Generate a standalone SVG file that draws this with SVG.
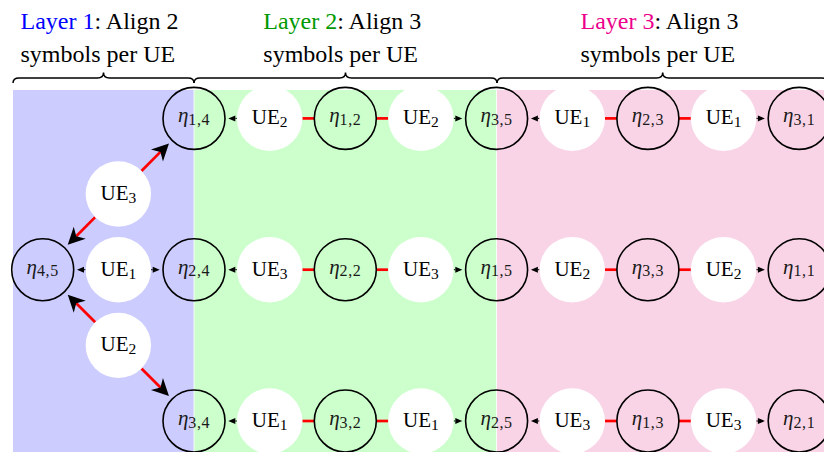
<svg xmlns="http://www.w3.org/2000/svg" width="824" height="452" viewBox="0 0 824 452">
<style>
text{font-family:"Liberation Serif","Times New Roman",serif;fill:#000}
.hd{font-size:24px}
.eta circle{fill:none;stroke:#000;stroke-width:1.6}
.ue circle{fill:#fff;stroke:none}
.el{font-size:21px;text-anchor:middle;fill:#1a1a1a}
.el .g{font-style:italic}
.el .s{font-size:16px;letter-spacing:0.6px}
.ul{font-size:21px;text-anchor:middle}
.ul .s{font-size:15.5px}
.brace{fill:none;stroke:#000;stroke-width:1.5}
.red{stroke:#f00;stroke-width:2.7;fill:none}
.sm{stroke:#000;stroke-width:1;fill:none;marker-end:url(#sa)}
.big{stroke:#f00;stroke-width:2.7;fill:none;marker-end:url(#ba)}
</style>
<defs>
<marker id="sa" markerUnits="userSpaceOnUse" orient="auto" refX="0" refY="0" markerWidth="10" markerHeight="10" viewBox="-1 -5 10 10" overflow="visible"><path d="M7,0 L0,-3 L0,3 Z" fill="#000"/></marker>
<marker id="ba" markerUnits="userSpaceOnUse" orient="auto" refX="0" refY="0" markerWidth="20" markerHeight="20" viewBox="-6 -10 20 20" overflow="visible"><path d="M12,0 L-5,-8.5 L0,0 L-5,8.5 Z" fill="#000"/></marker>
</defs>
<g id="background">
<rect x="13" y="90" width="180.6" height="362" fill="#ccccff"/>
<rect x="194.4" y="90" width="301.8" height="362" fill="#ccffcc"/>
<rect x="497" y="90" width="327" height="362" fill="#f9d4e6"/>
</g>
<g id="headers">
<text class="hd" x="20.5" y="29"><tspan fill="#0000ff">Layer 1</tspan>: Align 2</text>
<text class="hd" x="20.5" y="62">symbols per UE</text>
<text class="hd" x="263.3" y="29"><tspan fill="#009900">Layer 2</tspan>: Align 3</text>
<text class="hd" x="263.3" y="62">symbols per UE</text>
<text class="hd" x="580.5" y="29"><tspan fill="#ec008c">Layer 3</tspan>: Align 3</text>
<text class="hd" x="580.5" y="62">symbols per UE</text>
</g>
<g id="braces">
<path class="brace" d="M13,83 Q13,78 19,78 L97.5,78 Q103.5,78 103.5,72.5 Q103.5,78 109.5,78 L188,78 Q194,78 194,83"/>
<path class="brace" d="M194,83 Q194,78 200,78 L339.5,78 Q345.5,78 345.5,72.5 Q345.5,78 351.5,78 L491,78 Q497,78 497,83"/>
<path class="brace" d="M497,83 Q497,78 503,78 L656.7,78 Q662.7,78 662.7,72.5 Q662.7,78 668.7,78 L822,78 Q828,78 828,83"/>
</g>
<g id="connectors">
<line class="red" x1="302.35" y1="118.4" x2="314.3" y2="118.4"/>
<line class="red" x1="376.3" y1="118.4" x2="388.25" y2="118.4"/>
<line class="red" x1="604.95" y1="118.4" x2="616.9" y2="118.4"/>
<line class="red" x1="678.9" y1="118.4" x2="690.85" y2="118.4"/>
<line class="red" x1="302.35" y1="269.7" x2="314.3" y2="269.7"/>
<line class="red" x1="376.3" y1="269.7" x2="388.25" y2="269.7"/>
<line class="red" x1="604.95" y1="269.7" x2="616.9" y2="269.7"/>
<line class="red" x1="678.9" y1="269.7" x2="690.85" y2="269.7"/>
<line class="red" x1="302.35" y1="421" x2="314.3" y2="421"/>
<line class="red" x1="376.3" y1="421" x2="388.25" y2="421"/>
<line class="red" x1="604.95" y1="421" x2="616.9" y2="421"/>
<line class="red" x1="678.9" y1="421" x2="690.85" y2="421"/>
<line class="sm" x1="236.95" y1="118.4" x2="235.3" y2="118.4"/>
<line class="sm" x1="453.65" y1="118.4" x2="455.3" y2="118.4"/>
<line class="sm" x1="539.55" y1="118.4" x2="537.9" y2="118.4"/>
<line class="sm" x1="756.25" y1="118.4" x2="757.9" y2="118.4"/>
<line class="sm" x1="85.65" y1="269.7" x2="84" y2="269.7"/>
<line class="sm" x1="151.05" y1="269.7" x2="152.7" y2="269.7"/>
<line class="sm" x1="236.95" y1="269.7" x2="235.3" y2="269.7"/>
<line class="sm" x1="453.65" y1="269.7" x2="455.3" y2="269.7"/>
<line class="sm" x1="539.55" y1="269.7" x2="537.9" y2="269.7"/>
<line class="sm" x1="756.25" y1="269.7" x2="757.9" y2="269.7"/>
<line class="sm" x1="236.95" y1="421" x2="235.3" y2="421"/>
<line class="sm" x1="453.65" y1="421" x2="455.3" y2="421"/>
<line class="sm" x1="539.55" y1="421" x2="537.9" y2="421"/>
<line class="sm" x1="756.25" y1="421" x2="757.9" y2="421"/>
<line class="big" x1="141.47" y1="170.93" x2="160.48" y2="151.92"/>
<line class="big" x1="95.23" y1="217.17" x2="76.22" y2="236.18"/>
<line class="big" x1="95.23" y1="322.23" x2="76.22" y2="303.22"/>
<line class="big" x1="141.47" y1="368.47" x2="160.48" y2="387.48"/>
</g>
<g id="eta45" class="eta"><circle cx="42.7" cy="269.7" r="31"/><text class="el" x="42.7" y="273.7"><tspan class="g">η</tspan><tspan class="s" dy="2.5">4,5</tspan></text></g>
<g id="eta14" class="eta"><circle cx="194" cy="118.4" r="31"/><text class="el" x="194" y="122.4"><tspan class="g">η</tspan><tspan class="s" dy="2.5">1,4</tspan></text></g>
<g id="eta24" class="eta"><circle cx="194" cy="269.7" r="31"/><text class="el" x="194" y="273.7"><tspan class="g">η</tspan><tspan class="s" dy="2.5">2,4</tspan></text></g>
<g id="eta34" class="eta"><circle cx="194" cy="421" r="31"/><text class="el" x="194" y="425"><tspan class="g">η</tspan><tspan class="s" dy="2.5">3,4</tspan></text></g>
<g id="eta12" class="eta"><circle cx="345.3" cy="118.4" r="31"/><text class="el" x="345.3" y="122.4"><tspan class="g">η</tspan><tspan class="s" dy="2.5">1,2</tspan></text></g>
<g id="eta22" class="eta"><circle cx="345.3" cy="269.7" r="31"/><text class="el" x="345.3" y="273.7"><tspan class="g">η</tspan><tspan class="s" dy="2.5">2,2</tspan></text></g>
<g id="eta32" class="eta"><circle cx="345.3" cy="421" r="31"/><text class="el" x="345.3" y="425"><tspan class="g">η</tspan><tspan class="s" dy="2.5">3,2</tspan></text></g>
<g id="eta35" class="eta"><circle cx="496.6" cy="118.4" r="31"/><text class="el" x="496.6" y="122.4"><tspan class="g">η</tspan><tspan class="s" dy="2.5">3,5</tspan></text></g>
<g id="eta15" class="eta"><circle cx="496.6" cy="269.7" r="31"/><text class="el" x="496.6" y="273.7"><tspan class="g">η</tspan><tspan class="s" dy="2.5">1,5</tspan></text></g>
<g id="eta25" class="eta"><circle cx="496.6" cy="421" r="31"/><text class="el" x="496.6" y="425"><tspan class="g">η</tspan><tspan class="s" dy="2.5">2,5</tspan></text></g>
<g id="eta23" class="eta"><circle cx="647.9" cy="118.4" r="31"/><text class="el" x="647.9" y="122.4"><tspan class="g">η</tspan><tspan class="s" dy="2.5">2,3</tspan></text></g>
<g id="eta33" class="eta"><circle cx="647.9" cy="269.7" r="31"/><text class="el" x="647.9" y="273.7"><tspan class="g">η</tspan><tspan class="s" dy="2.5">3,3</tspan></text></g>
<g id="eta13" class="eta"><circle cx="647.9" cy="421" r="31"/><text class="el" x="647.9" y="425"><tspan class="g">η</tspan><tspan class="s" dy="2.5">1,3</tspan></text></g>
<g id="eta31" class="eta"><circle cx="799.2" cy="118.4" r="31"/><text class="el" x="799.2" y="122.4"><tspan class="g">η</tspan><tspan class="s" dy="2.5">3,1</tspan></text></g>
<g id="eta11" class="eta"><circle cx="799.2" cy="269.7" r="31"/><text class="el" x="799.2" y="273.7"><tspan class="g">η</tspan><tspan class="s" dy="2.5">1,1</tspan></text></g>
<g id="eta21" class="eta"><circle cx="799.2" cy="421" r="31"/><text class="el" x="799.2" y="425"><tspan class="g">η</tspan><tspan class="s" dy="2.5">2,1</tspan></text></g>
<g id="ue3-l1" class="ue"><circle cx="118.35" cy="194.05" r="32.7"/><text class="ul" x="118.35" y="200.05">UE<tspan class="s" dy="3">3</tspan></text></g>
<g id="ue1-l1" class="ue"><circle cx="118.35" cy="269.7" r="32.7"/><text class="ul" x="118.35" y="275.7">UE<tspan class="s" dy="3">1</tspan></text></g>
<g id="ue2-l1" class="ue"><circle cx="118.35" cy="345.35" r="32.7"/><text class="ul" x="118.35" y="351.35">UE<tspan class="s" dy="3">2</tspan></text></g>
<g id="ue-r0c3" class="ue"><circle cx="269.65" cy="118.4" r="32.7"/><text class="ul" x="269.65" y="124.4">UE<tspan class="s" dy="3">2</tspan></text></g>
<g id="ue-r0c5" class="ue"><circle cx="420.95" cy="118.4" r="32.7"/><text class="ul" x="420.95" y="124.4">UE<tspan class="s" dy="3">2</tspan></text></g>
<g id="ue-r0c7" class="ue"><circle cx="572.25" cy="118.4" r="32.7"/><text class="ul" x="572.25" y="124.4">UE<tspan class="s" dy="3">1</tspan></text></g>
<g id="ue-r0c9" class="ue"><circle cx="723.55" cy="118.4" r="32.7"/><text class="ul" x="723.55" y="124.4">UE<tspan class="s" dy="3">1</tspan></text></g>
<g id="ue-r2c3" class="ue"><circle cx="269.65" cy="269.7" r="32.7"/><text class="ul" x="269.65" y="275.7">UE<tspan class="s" dy="3">3</tspan></text></g>
<g id="ue-r2c5" class="ue"><circle cx="420.95" cy="269.7" r="32.7"/><text class="ul" x="420.95" y="275.7">UE<tspan class="s" dy="3">3</tspan></text></g>
<g id="ue-r2c7" class="ue"><circle cx="572.25" cy="269.7" r="32.7"/><text class="ul" x="572.25" y="275.7">UE<tspan class="s" dy="3">2</tspan></text></g>
<g id="ue-r2c9" class="ue"><circle cx="723.55" cy="269.7" r="32.7"/><text class="ul" x="723.55" y="275.7">UE<tspan class="s" dy="3">2</tspan></text></g>
<g id="ue-r4c3" class="ue"><circle cx="269.65" cy="421" r="32.7"/><text class="ul" x="269.65" y="427">UE<tspan class="s" dy="3">1</tspan></text></g>
<g id="ue-r4c5" class="ue"><circle cx="420.95" cy="421" r="32.7"/><text class="ul" x="420.95" y="427">UE<tspan class="s" dy="3">1</tspan></text></g>
<g id="ue-r4c7" class="ue"><circle cx="572.25" cy="421" r="32.7"/><text class="ul" x="572.25" y="427">UE<tspan class="s" dy="3">3</tspan></text></g>
<g id="ue-r4c9" class="ue"><circle cx="723.55" cy="421" r="32.7"/><text class="ul" x="723.55" y="427">UE<tspan class="s" dy="3">3</tspan></text></g>
</svg>
